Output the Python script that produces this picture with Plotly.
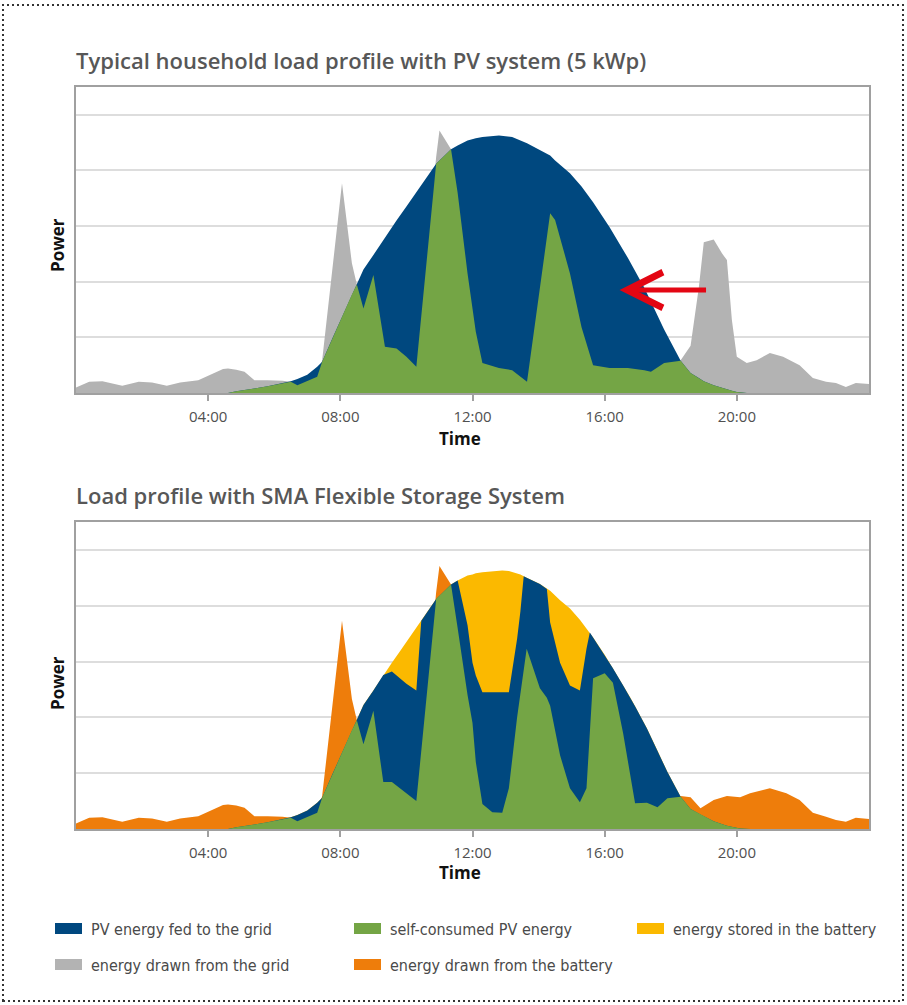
import plotly.graph_objects as go

# ---------------- data ----------------
hours_top = [0.0, 0.4, 0.8, 1.4, 1.9, 2.3, 2.75, 3.15, 3.7, 4.05, 4.45, 4.6,
             4.85, 5.1, 5.4, 5.8, 6.25, 6.5, 6.7, 7.0, 7.3, 7.45, 7.75, 8.05,
             8.35, 8.5, 8.7, 9.0, 9.35, 9.7, 10.0, 10.3, 10.9, 11.0, 11.35, 11.55,
             11.85, 12.1, 12.3, 12.8, 13.2, 13.65, 14.35, 14.5, 14.95, 15.3, 15.65, 16.15,
             16.7, 17.2, 17.4, 17.8, 18.3, 18.6, 18.85, 19.0, 19.3, 19.55, 19.7, 19.85,
             20.0, 20.3, 20.6, 21.0, 21.4, 21.9, 22.3, 22.7, 23.0, 23.3, 23.6, 24.0]
pv_top = [0, 0, 0, 0, 0, 0, 0, 0, 0, 0, 0, 0,
          0.03, 0.05, 0.08, 0.12, 0.17, 0.21, 0.25, 0.33, 0.47, 0.56, 0.97, 1.37,
          1.77, 1.97, 2.22, 2.48, 2.80, 3.10, 3.35, 3.60, 4.12, 4.18, 4.38, 4.45,
          4.54, 4.58, 4.60, 4.63, 4.60, 4.49, 4.27, 4.18, 3.95, 3.71, 3.43, 2.98,
          2.43, 1.89, 1.65, 1.14, 0.58, 0.36, 0.27, 0.21, 0.14, 0.09, 0.06, 0.04,
          0.02, 0, 0, 0, 0, 0, 0, 0, 0, 0, 0, 0]
load_top = [0.10, 0.20, 0.21, 0.13, 0.20, 0.19, 0.13, 0.19, 0.23, 0.32, 0.43, 0.44,
            0.42, 0.38, 0.23, 0.23, 0.22, 0.20, 0.14, 0.21, 0.29, 0.59, 2.20, 3.77,
            2.33, 1.95, 1.52, 2.12, 0.83, 0.80, 0.65, 0.47, 4.24, 4.72, 4.38, 3.60,
            2.15, 1.10, 0.54, 0.45, 0.41, 0.20, 3.23, 3.11, 2.15, 1.18, 0.50, 0.45,
            0.45, 0.41, 0.38, 0.54, 0.59, 0.85, 1.90, 2.71, 2.76, 2.51, 2.39, 1.31,
            0.65, 0.54, 0.59, 0.72, 0.65, 0.50, 0.27, 0.20, 0.18, 0.11, 0.18, 0.16]

hours_bottom = [0.0, 0.4, 0.8, 1.4, 1.9, 2.3, 2.75, 3.15, 3.7, 4.05, 4.45, 4.6,
                4.85, 5.1, 5.4, 5.8, 6.25, 6.5, 6.7, 7.0, 7.3, 7.45, 7.75, 8.05,
                8.35, 8.5, 8.7, 9.0, 9.3, 9.56, 9.8, 10.0, 10.3, 10.45, 10.9, 11.0,
                11.35, 11.55, 11.85, 12.0, 12.1, 12.3, 12.6, 12.9, 13.1, 13.35, 13.45, 13.55,
                13.64, 14.04, 14.25, 14.35, 14.65, 14.95, 15.25, 15.45, 15.55, 15.65, 16.0, 16.25,
                16.56, 16.77, 16.92, 17.28, 17.6, 17.9, 18.3, 18.6, 18.9, 19.3, 19.7, 20.1,
                20.4, 21.0, 21.5, 21.9, 22.3, 22.7, 23.0, 23.3, 23.6, 24.0]
pv_bottom = [0, 0, 0, 0, 0, 0, 0, 0, 0, 0, 0, 0,
             0.03, 0.05, 0.08, 0.12, 0.17, 0.21, 0.25, 0.33, 0.47, 0.56, 0.97, 1.37,
             1.77, 1.97, 2.22, 2.48, 2.76, 2.98, 3.18, 3.35, 3.60, 3.73, 4.12, 4.18,
             4.38, 4.45, 4.54, 4.56, 4.58, 4.60, 4.62, 4.63, 4.62, 4.58, 4.56, 4.53,
             4.50, 4.39, 4.30, 4.27, 4.10, 3.95, 3.75, 3.60, 3.52, 3.43, 3.12, 2.88,
             2.57, 2.36, 2.20, 1.80, 1.40, 1.02, 0.58, 0.36, 0.26, 0.14, 0.06, 0.01,
             0, 0, 0, 0, 0, 0, 0, 0, 0, 0]
load_bottom = [0.10, 0.20, 0.21, 0.13, 0.20, 0.19, 0.13, 0.19, 0.23, 0.32, 0.43, 0.44,
               0.42, 0.38, 0.23, 0.23, 0.22, 0.20, 0.14, 0.21, 0.29, 0.59, 2.20, 3.73,
               2.33, 1.95, 1.52, 2.12, 0.84, 0.84, 0.73, 0.64, 0.50, 1.40, 4.24, 4.71,
               4.38, 3.60, 2.40, 1.90, 1.20, 0.45, 0.30, 0.29, 0.73, 2.00, 2.40, 2.85,
               3.23, 2.52, 2.35, 2.21, 1.32, 0.73, 0.48, 0.73, 1.70, 2.70, 2.79, 2.62,
               1.71, 1.00, 0.46, 0.47, 0.39, 0.55, 0.59, 0.57, 0.37, 0.52, 0.59, 0.57,
               0.64, 0.73, 0.64, 0.52, 0.29, 0.22, 0.16, 0.13, 0.20, 0.18]
battery_bottom = [0, 0, 0, 0, 0, 0, 0, 0, 0, 0, 0, 0,
                  0, 0, 0, 0, 0, 0, 0, 0, 0, 0, 0, 0,
                  0, 0, 0, 0, 0, 0.16, 0.48, 0.75, 1.12, 0, 0, 0,
                  0, 0, 0.89, 1.58, 1.83, 2.15, 2.17, 2.18, 2.17, 1.17, 0.66, 0,
                  0, 0, 0, 0.57, 1.12, 1.38, 1.27, 0.37, 0, 0, 0, 0,
                  0, 0, 0, 0, 0, 0, 0, 0, 0, 0, 0, 0,
                  0, 0, 0, 0, 0, 0, 0, 0, 0, 0]

tick_hours = [4, 8, 12, 16, 20]
tick_labels = ["04:00", "08:00", "12:00", "16:00", "20:00"]

titles = ["Typical household load profile with PV system (5 kWp)",
          "Load profile with SMA Flexible Storage System"]
legend_labels = ["PV energy fed to the grid", "self-consumed PV energy",
                 "energy stored in the battery", "energy drawn from the grid",
                 "energy drawn from the battery"]

assert len(hours_top) == len(pv_top) == len(load_top)
assert len(hours_bottom) == len(pv_bottom) == len(load_bottom) == len(battery_bottom)

# ---------------- styling ----------------
BLUE = "#00487f"
GREEN = "#74a545"
YELLOW = "#fbb900"
GREY = "#b3b3b3"
ORANGE = "#ee7d0b"
RED = "#e30613"
W, H = 907, 1005


def px(xp):
    return xp / W


def py(yp):
    return 1 - yp / H


self_top = [min(l, p) for l, p in zip(load_top, pv_top)]
self_bottom = [min(l, p) for l, p in zip(load_bottom, pv_bottom)]
feed_bottom = [p - b for p, b in zip(pv_bottom, battery_bottom)]

fig = go.Figure()


def area(x, y, color, name, xa, ya):
    fig.add_trace(go.Scatter(x=x, y=y, mode="lines", line=dict(width=0, color=color),
                             fill="tozeroy", fillcolor=color, name=name,
                             showlegend=False, xaxis=xa, yaxis=ya, hoverinfo="skip"))


area(hours_top, load_top, GREY, legend_labels[3], "x", "y")
area(hours_top, pv_top, BLUE, legend_labels[0], "x", "y")
area(hours_top, self_top, GREEN, legend_labels[1], "x", "y")

area(hours_bottom, load_bottom, ORANGE, legend_labels[4], "x2", "y2")
area(hours_bottom, pv_bottom, YELLOW, legend_labels[2], "x2", "y2")
area(hours_bottom, feed_bottom, BLUE, legend_labels[0], "x2", "y2")
area(hours_bottom, self_bottom, GREEN, legend_labels[1], "x2", "y2")

LINE = "#a0a0a0"
xcommon = dict(range=[0, 24], tickvals=tick_hours, ticktext=tick_labels, showgrid=False,
               zeroline=False, showline=True, mirror=True, linecolor=LINE, linewidth=2,
               ticks="outside", ticklen=6, tickwidth=1.5, tickcolor=LINE,
               ticklabelstandoff=3,
               tickfont=dict(family="Open Sans, sans-serif", size=15, color="#505050"),
               domain=[px(76), px(869)], fixedrange=True)
ycommon = dict(range=[0, 5.5], tick0=0, dtick=1, showgrid=True, gridcolor="#dddddd",
               gridwidth=1.5, showticklabels=False, zeroline=False, showline=True,
               mirror=True, linecolor=LINE, linewidth=2, ticks="", fixedrange=True)

fig.update_layout(
    width=W, height=H, margin=dict(l=0, r=0, t=0, b=0),
    paper_bgcolor="white", plot_bgcolor="white", showlegend=False,
    xaxis=dict(xcommon, anchor="y"),
    yaxis=dict(ycommon, anchor="x", domain=[py(393), py(87)]),
    xaxis2=dict(xcommon, anchor="y2"),
    yaxis2=dict(ycommon, anchor="x2", domain=[py(829), py(522)]),
)

ann = []
TITLE_FONT = dict(family="Open Sans, sans-serif", size=22, color="#575757", weight=600)
ann.append(dict(text=titles[0], x=px(74), y=py(60), xref="paper", yref="paper",
                xanchor="left", yanchor="middle", showarrow=False, font=TITLE_FONT))
ann.append(dict(text=titles[1], x=px(74), y=py(495), xref="paper", yref="paper",
                xanchor="left", yanchor="middle", showarrow=False, font=TITLE_FONT))
AX_FONT = dict(family="Open Sans, sans-serif", size=17, color="#111111", weight="bold")
for yc in (245, 683):
    ann.append(dict(text="Power", x=px(57), y=py(yc), xref="paper", yref="paper",
                    textangle=-90, xanchor="center", yanchor="middle", showarrow=False,
                    font=AX_FONT))
for yc in (438, 872):
    ann.append(dict(text="Time", x=px(460), y=py(yc), xref="paper", yref="paper",
                    xanchor="center", yanchor="middle", showarrow=False, font=AX_FONT))

# red arrow pointing at the PV feed-in area
ann.append(dict(x=16.45, y=1.85, xref="x", yref="y", ax=88, ay=0, text="",
                showarrow=True, arrowhead=5, arrowwidth=5, arrowsize=1.4,
                arrowcolor=RED, standoff=0))

# manual legend
LEG_FONT = dict(family="Liberation Sans Narrow, DejaVu Sans Condensed, sans-serif",
                size=16, color="#4a4a4a")
legend_items = [(legend_labels[0], BLUE, 55, 929), (legend_labels[1], GREEN, 354, 929),
                (legend_labels[2], YELLOW, 637, 929), (legend_labels[3], GREY, 55, 965),
                (legend_labels[4], ORANGE, 354, 965)]
shapes = []
for label, col, x0, yc in legend_items:
    shapes.append(dict(type="rect", xref="paper", yref="paper", x0=px(x0), x1=px(x0 + 27),
                       y0=py(yc + 5), y1=py(yc - 6), fillcolor=col, line=dict(width=0)))
    ann.append(dict(text=label, x=px(x0 + 34), y=py(yc), xref="paper", yref="paper",
                    xanchor="left", yanchor="middle", showarrow=False, font=LEG_FONT))

# dotted frame around the whole graphic
shapes.append(dict(type="rect", xref="paper", yref="paper", x0=px(3), x1=px(903),
                   y0=py(1001), y1=py(5), line=dict(color="#333333", width=2, dash="2px,3px"),
                   fillcolor="rgba(0,0,0,0)"))

fig.update_layout(annotations=ann, shapes=shapes)
fig.write_html("out.html", config={"displayModeBar": False},
               post_script="document.body.style.margin='0px';"
                           "document.body.style.overflow='hidden';")
